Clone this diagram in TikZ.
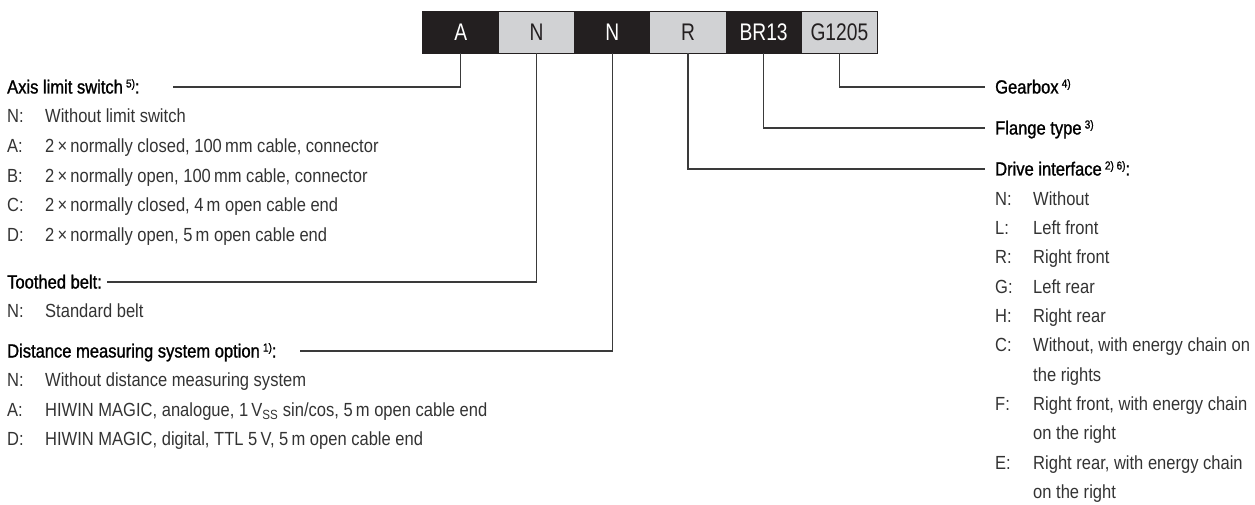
\documentclass[tikz,border=0pt]{standalone}
\usepackage{fontspec}
\setmainfont[FakeStretch=0.87]{Liberation Sans}
\newfontfamily\hdrfont[FakeStretch=0.87,FakeBold=1.2]{Liberation Sans}
\newfontfamily\boxfont[FakeStretch=0.8]{Liberation Sans}
\definecolor{boxdark}{HTML}{231F20}
\definecolor{boxlight}{HTML}{D1D2D4}
\definecolor{itemcol}{HTML}{333333}
\definecolor{linecol}{HTML}{3A3A3A}
\newcommand\supr[1]{\,\raisebox{6pt}{\fontsize{11.5}{11.5}\selectfont #1}}
\tikzset{
  codebox/.style={minimum width=75.7pt, minimum height=41pt, inner sep=0pt,
    font=\boxfont\fontsize{24}{24}\selectfont},
  darkbox/.style={codebox, fill=boxdark, text=white},
  lightbox/.style={codebox, fill=boxlight, text=boxdark},
  hdr/.style={anchor=base west, inner sep=0pt, text=black,
    font=\hdrfont\fontsize{19}{19}\selectfont},
  item/.style={anchor=base west, inner sep=0pt, text=itemcol,
    font=\fontsize{19}{19}\selectfont},
  conn/.style={draw=linecol, line width=1.1pt}
}
\begin{document}
\begin{tikzpicture}[x=1pt,y=-1pt]
\useasboundingbox (0,0) rectangle (1255,505);
% code boxes
\node[darkbox]  (bA) at (460.85,32.5) {A};
\node[lightbox] (bN1) at (536.55,32.5) {N};
\node[darkbox]  (bN2) at (612.25,32.5) {N};
\node[lightbox] (bR) at (687.95,32.5) {R};
\node[darkbox]  (bBR) at (763.65,32.5) {BR13};
\node[lightbox] (bG) at (839.35,32.5) {G1205};
\draw[boxdark, line width=0.8pt] (bA.north west) rectangle (bG.south east);

% left headers
\node[hdr] (hAxis) at (7,93.5) {Axis limit switch\supr{5)}:};
\node[hdr] (hBelt) at (7,288.5) {Toothed belt:};
\node[hdr] (hDist) at (7,357.5) {Distance measuring system option\supr{1)}:};
% right headers
\node[hdr] (hGear) at (995,93.5) {Gearbox\supr{4)}};
\node[hdr] (hFlange) at (995,134.5) {Flange type\supr{3)}};
\node[hdr] (hDrive) at (995,175.5) {Drive interface\supr{2) 6)}:};

% line ends
\coordinate (eAxis) at (173,87);
\coordinate (eBelt) at (107,282);
\coordinate (eDist) at (300,351);
\coordinate (eGear) at (985,87);
\coordinate (eFlange) at (985,128);
\coordinate (eDrive) at (985,169);

\draw[conn] (bA.south) |- (eAxis);
\draw[conn] (bN1.south) |- (eBelt);
\draw[conn] (bN2.south) |- (eDist);
\draw[conn] (bR.south) |- (eDrive);
\draw[conn] (bBR.south) |- (eFlange);
\draw[conn] (bG.south) |- (eGear);

% left items: axis limit switch
\node[item] (aNk) at (7,122.5) {N:};   \node[item] (aNt) at (45,122.5) {Without limit switch};
\node[item] (aAk) at (7,152.5) {A:};   \node[item] (aAt) at (45,152.5) {2\,×\,normally closed, 100\,mm cable, connector};
\node[item] (aBk) at (7,182.5) {B:};   \node[item] (aBt) at (45,182.5) {2\,×\,normally open, 100\,mm cable, connector};
\node[item] (aCk) at (7,211.5) {C:};   \node[item] (aCt) at (45,211.5) {2\,×\,normally closed, 4\,m open cable end};
\node[item] (aDk) at (7,241.5) {D:};   \node[item] (aDt) at (45,241.5) {2\,×\,normally open, 5\,m open cable end};
% toothed belt
\node[item] (tNk) at (7,317.5) {N:};   \node[item] (tNt) at (45,317.5) {Standard belt};
% distance measuring
\node[item] (dNk) at (7,386.5) {N:};   \node[item] (dNt) at (45,386.5) {Without distance measuring system};
\node[item] (dAk) at (7,416.5) {A:};   \node[item] (dAt) at (45,416.5) {HIWIN MAGIC, analogue, 1\,V\textsubscript{SS} sin/cos, 5\,m open cable end};
\node[item] (dDk) at (7,445.5) {D:};   \node[item] (dDt) at (45,445.5) {HIWIN MAGIC, digital, TTL 5\,V, 5\,m open cable end};

% right items: drive interface
\node[item] (rNk) at (995,205) {N:}; \node[item] (rNt) at (1033,205) {Without};
\node[item] (rLk) at (995,234.5) {L:};   \node[item] (rLt) at (1033,234.5) {Left front};
\node[item] (rRk) at (995,263.5) {R:};   \node[item] (rRt) at (1033,263.5) {Right front};
\node[item] (rGk) at (995,293) {G:}; \node[item] (rGt) at (1033,293) {Left rear};
\node[item] (rHk) at (995,322.5) {H:};   \node[item] (rHt) at (1033,322.5) {Right rear};
\node[item] (rCk) at (995,351.5) {C:};   \node[item] (rCt) at (1033,351.5) {Without, with energy chain on};
\node[item] (rCt2) at (1033,381) {the rights};
\node[item] (rFk) at (995,410.5) {F:};   \node[item] (rFt) at (1033,410.5) {Right front, with energy chain};
\node[item] (rFt2) at (1033,439.5) {on the right};
\node[item] (rEk) at (995,469) {E:}; \node[item] (rEt) at (1033,469) {Right rear, with energy chain};
\node[item] (rEt2) at (1033,498) {on the right};
\end{tikzpicture}
\end{document}
